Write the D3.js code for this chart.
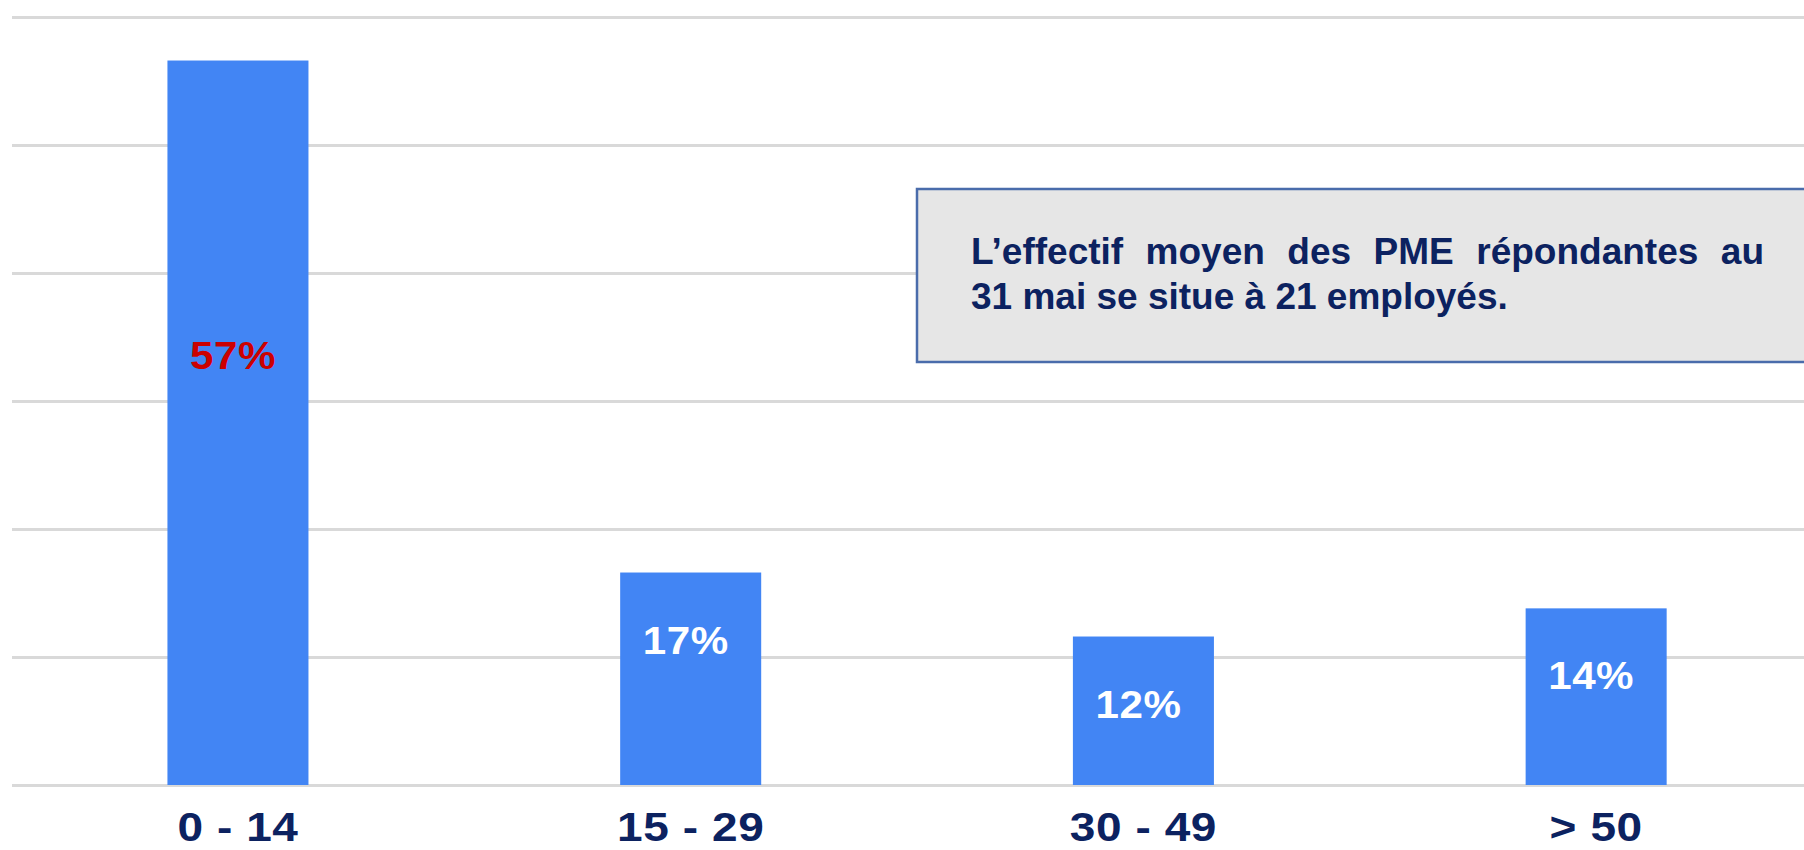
<!DOCTYPE html>
<html>
<head>
<meta charset="utf-8">
<script src="https://cdn.jsdelivr.net/npm/d3@7"></script>
<style>
  html, body { margin: 0; padding: 0; background: #ffffff; }
  svg { display: block; }
</style>
</head>
<body>
<svg id="chart" width="1804" height="850"></svg>
<script>
// ---- data ----
const categories = ["0 - 14", "15 - 29", "30 - 49", "> 50"];
const values = [56.6, 16.6, 11.6, 13.8];          // bar heights (%)
const valueLabels = ["57%", "17%", "12%", "14%"];  // labels printed on the bars
const gridTicks = [0, 10, 20, 30, 40, 50, 60];
const noteLines = [
  "L’effectif moyen des PME répondantes au",
  "31 mai se situe à 21 employés."
];

// ---- layout ----
const W = 1804, H = 850;
const svg = d3.select("#chart");
const navy = "#0c2260";

const x = d3.scaleBand()
  .domain(categories)
  .range([11.7, 1822.4])
  .paddingInner(0.6885)
  .paddingOuter(0.344);

const y = d3.scaleLinear().domain([0, 60]).range([785, 17]);

// gridlines
const grid = svg.append("g")
  .attr("transform", "translate(12,0)")
  .call(d3.axisLeft(y).tickValues(gridTicks).tickSize(-(W - 12)).tickFormat(""));
grid.select(".domain").remove();
grid.selectAll(".tick line").attr("stroke", "#d9d9d9").attr("stroke-width", 3);

// bars
svg.append("g").selectAll("rect")
  .data(values)
  .join("rect")
  .attr("x", (d, i) => x(categories[i]))
  .attr("y", d => y(d))
  .attr("width", x.bandwidth())
  .attr("height", d => y(0) - y(d))
  .attr("fill", "#4285f4");

// value labels
svg.append("g").selectAll("text")
  .data(values)
  .join("text")
  .attr("transform", (d, i) =>
    `translate(${x(categories[i]) + x.bandwidth() / 2 - 5},${y(d) + (d > 40 ? 308 : 81)}) scale(1.08,1)`)
  .attr("text-anchor", "middle")
  .attr("font-family", "'Liberation Sans', Arial, sans-serif")
  .attr("font-weight", "bold")
  .attr("font-size", 39)
  .attr("letter-spacing", 0.5)
  .attr("fill", (d, i) => i === 0 ? "#cc0000" : "#ffffff")
  .text((d, i) => valueLabels[i]);

// x axis labels
const xa = svg.append("g")
  .attr("transform", "translate(0,785)")
  .call(d3.axisBottom(x).tickSize(0));
xa.select(".domain").remove();
xa.selectAll(".tick text")
  .attr("y", 0)
  .attr("dy", 0)
  .attr("transform", "translate(0,56) scale(1.15,1)")
  .attr("font-family", "'Liberation Sans', Arial, sans-serif")
  .attr("font-weight", "bold")
  .attr("font-size", 40)
  .attr("letter-spacing", 0.5)
  .attr("fill", navy);

// note box
const box = svg.append("g");
box.append("rect")
  .attr("x", 917).attr("y", 189)
  .attr("width", 1000).attr("height", 173)
  .attr("fill", "#e6e6e6")
  .attr("stroke", "#4a6cab")
  .attr("stroke-width", 2.5);

const textLeft = 971, textRight = 1764;
const baselines = [264, 309];
noteLines.forEach((line, li) => {
  const t = box.append("text")
    .attr("y", baselines[li])
    .attr("font-family", "'Liberation Sans', Arial, sans-serif")
    .attr("font-weight", "bold")
    .attr("font-size", 37)
    .attr("fill", navy);
  const words = line.split(" ");
  if (li === 0) {
    // justified line
    const spans = words.map(w => t.append("tspan").text(w));
    const widths = spans.map(s => s.node().getComputedTextLength());
    const total = d3.sum(widths);
    const gap = (textRight - textLeft - total) / (words.length - 1);
    let cx = textLeft;
    spans.forEach((s, i) => { s.attr("x", cx); cx += widths[i] + gap; });
  } else {
    t.attr("x", textLeft).text(line);
  }
});
</script>
</body>
</html>
